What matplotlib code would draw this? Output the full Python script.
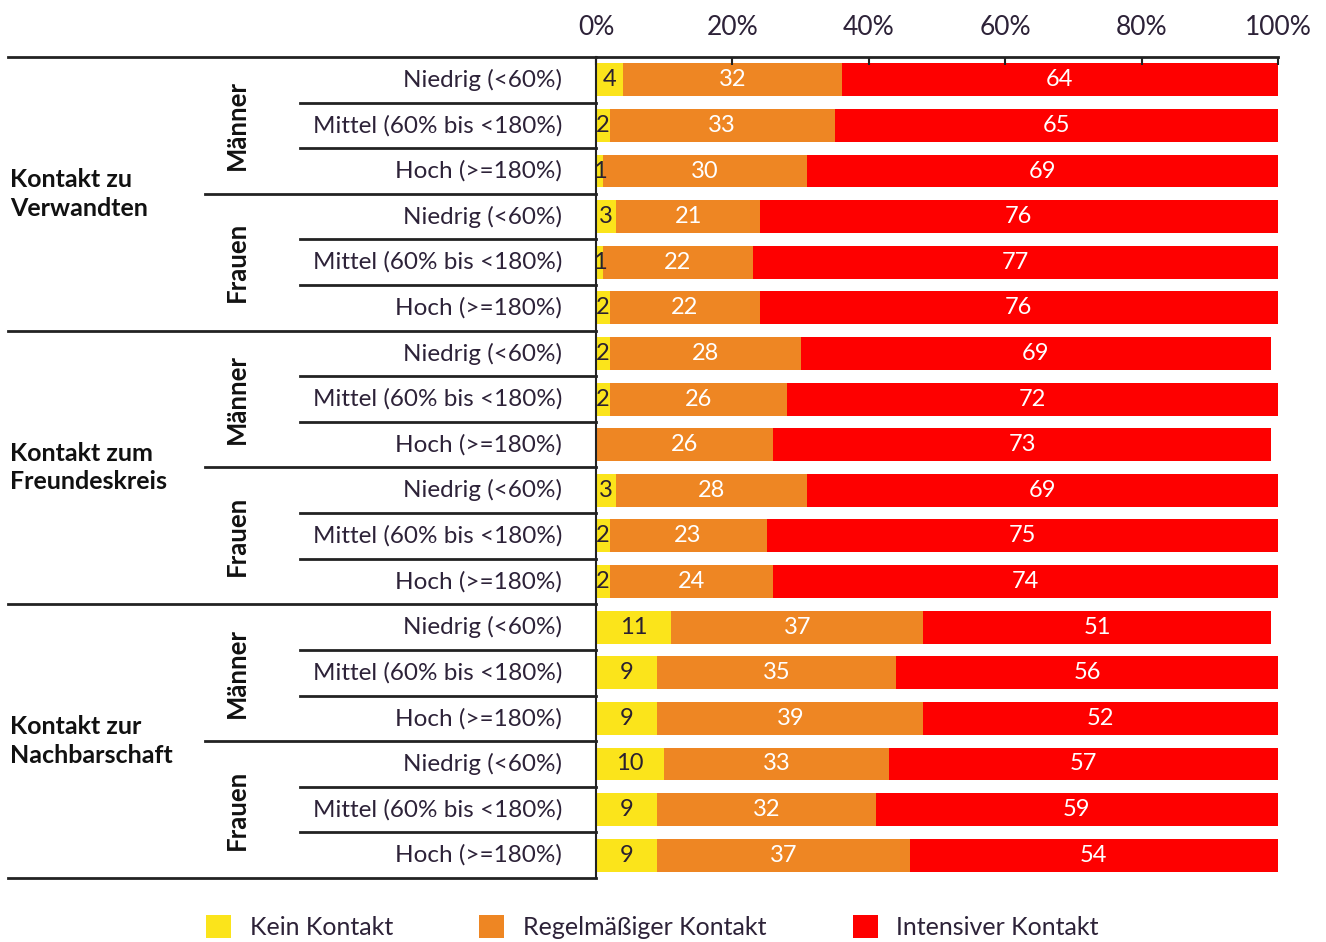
import numpy as np
import matplotlib
matplotlib.use("Agg")
import matplotlib.pyplot as plt
import matplotlib.transforms as mtransforms
from matplotlib.patches import Patch

plt.rcParams['font.family'] = ['Lato', 'DejaVu Sans']

# Daten
bereiche = ["Kontakt zu\nVerwandten", "Kontakt zum\nFreundeskreis", "Kontakt zur\nNachbarschaft"]
geschlecht = ["Männer", "Frauen"]
einkommen = ["Niedrig (<60%)", "Mittel (60% bis <180%)", "Hoch (>=180%)"]

kein = [4, 2, 1, 3, 1, 2, 2, 2, 0, 3, 2, 2, 11, 9, 9, 10, 9, 9]
regel = [32, 33, 30, 21, 22, 22, 28, 26, 26, 28, 23, 24, 37, 35, 39, 33, 32, 37]
intensiv = [64, 65, 69, 76, 77, 76, 69, 72, 73, 69, 75, 74, 51, 56, 52, 57, 59, 54]

serien = ["Kein Kontakt", "Regelmäßiger Kontakt", "Intensiver Kontakt"]
farben = ["#FBE41B", "#EE8623", "#FE0000"]
textfarben = ["#2a2030", "white", "white"]

txt = "#2d2238"

W, H = 1326, 942
fig = plt.figure(figsize=(W / 100, H / 100), dpi=100)
ax = fig.add_axes([596 / W, 1 - 878 / H, (1278 - 596) / W, (878 - 57) / H])

n = len(kein)
y = np.arange(n)
werte = [np.array(kein), np.array(regel), np.array(intensiv)]
links = np.zeros(n)
for w, f, tf in zip(werte, farben, textfarben):
    ax.barh(y, w, left=links, height=0.72, color=f)
    for i in range(n):
        if w[i] > 0:
            ax.text(links[i] + w[i] / 2, y[i], str(w[i]), ha="center", va="center",
                    fontsize=17, color=tf)
    links = links + w

ax.set_xlim(0, 100)
ax.set_ylim(n - 0.5, -0.5)
ax.set_yticks([])
ax.xaxis.tick_top()
ax.set_xticks([0, 20, 40, 60, 80, 100])
ax.set_xticklabels(["0%", "20%", "40%", "60%", "80%", "100%"], fontsize=19, color=txt)
ax.tick_params(axis="x", direction="in", length=6, width=1.5, pad=12, color="#222")
ax.spines["right"].set_visible(False)
ax.spines["bottom"].set_visible(False)
ax.spines["top"].set_linewidth(2)
ax.spines["left"].set_linewidth(1.5)
ax.spines["top"].set_color("#222")
ax.spines["left"].set_color("#222")

# Beschriftung links
trans = mtransforms.blended_transform_factory(fig.transFigure, ax.transData)
for i in range(n):
    ax.text(562 / W, i, einkommen[i % 3], transform=trans, ha="right", va="center",
            fontsize=17.5, color=txt)

for k in range(n + 1):
    yy = k - 0.5
    if k % 6 == 0:
        x0 = 8
    elif k % 3 == 0:
        x0 = 205
    else:
        x0 = 300
    ax.plot([x0 / W, 596 / W], [yy, yy], transform=trans, color="#222", lw=2, clip_on=False)

for g, name in enumerate(bereiche):
    ax.text(10 / W, g * 6 + 2.5, name, transform=trans, ha="left", va="center",
            fontsize=18, fontweight="bold", color="#111", linespacing=1.3)
    for s, gname in enumerate(geschlecht):
        ax.text(237 / W, g * 6 + s * 3 + 1, gname, transform=trans, ha="center", va="center",
                rotation=90, fontsize=18.5, fontweight="bold", color="#111")

# Legende
handles = [Patch(facecolor=f, edgecolor="none") for f in farben]
fig.legend(handles, serien, loc="center", bbox_to_anchor=(0.492, 1 - 927 / H), ncol=3,
           frameon=False, fontsize=18, handlelength=1.0, handleheight=1.0,
           handletextpad=0.75, columnspacing=3.45, labelcolor=txt)

fig.savefig("out.png", dpi=100)
